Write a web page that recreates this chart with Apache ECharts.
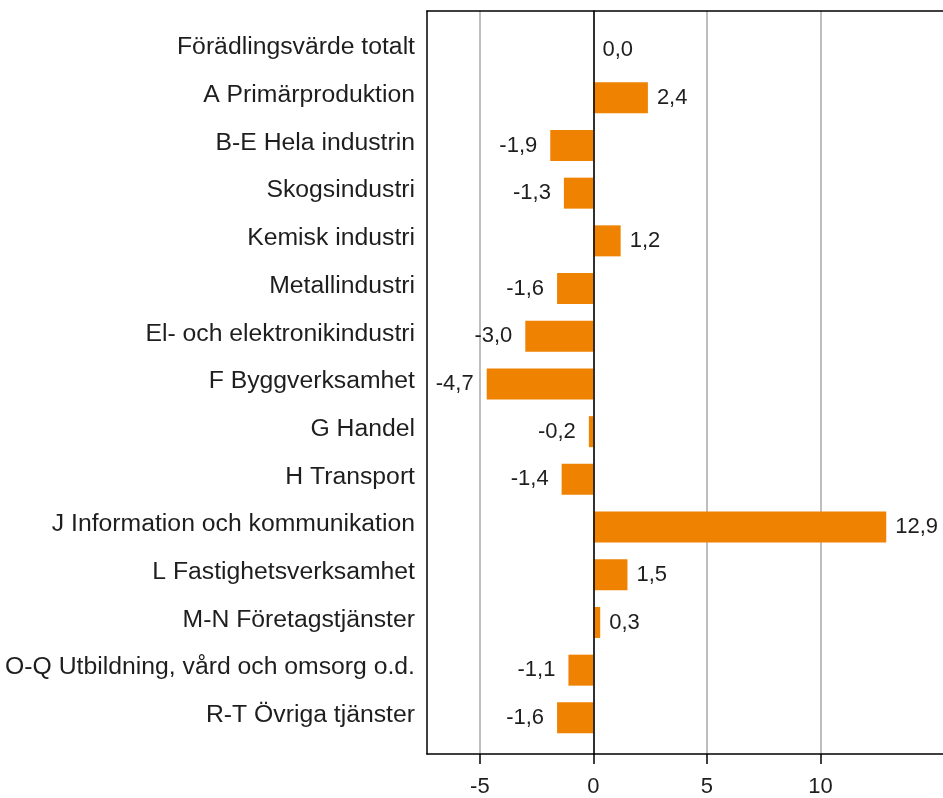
<!DOCTYPE html>
<html>
<head>
<meta charset="utf-8">
<script src="https://cdn.jsdelivr.net/npm/echarts@6/dist/echarts.min.js"></script>
<style>html,body{margin:0;padding:0;background:#fff;overflow:hidden}#c{width:943px;height:798px}</style>
</head>
<body>
<div id="c"></div>
<script>
const categories = [
  "Förädlingsvärde totalt",
  "A Primärproduktion",
  "B-E Hela industrin",
  "Skogsindustri",
  "Kemisk industri",
  "Metallindustri",
  "El- och elektronikindustri",
  "F Byggverksamhet",
  "G Handel",
  "H Transport",
  "J Information och kommunikation",
  "L Fastighetsverksamhet",
  "M-N Företagstjänster",
  "O-Q Utbildning, vård och omsorg o.d.",
  "R-T Övriga tjänster"
];
const values = [0.0, 2.4, -1.9, -1.3, 1.2, -1.6, -3.0, -4.7, -0.2, -1.4, 12.9, 1.5, 0.3, -1.1, -1.6];
const tickValues = [-5, 0, 5, 10];

const X_MIN = -7.33, X_MAX = 15.40;
const FONT = '"Liberation Sans", Arial, sans-serif';
const TXT = '#1e1e1e';
const frameLine = {show: true, onZero: false, lineStyle: {color: '#000', width: 1.5}};
const hidden = {axisTick: {show: false}, axisLabel: {show: false}, splitLine: {show: false}};

const chart = echarts.init(document.getElementById('c'), null, {renderer: 'canvas'});
const fmt = v => v.toFixed(1).replace('.', ',');

const barData = values.map(v => ({
  value: v,
  label: v < 0 ? {position: 'left', distance: 13} : {position: 'right', distance: 9}
}));

chart.setOption({
  animation: false,
  backgroundColor: '#fff',
  grid: [
    {left: 427, top: 11, right: 0, height: 743.6},
    {left: 427, top: 26.2, right: 0, height: 715.5}
  ],
  xAxis: [
    {
      type: 'value', gridIndex: 0, min: X_MIN, max: X_MAX, position: 'bottom',
      axisLine: {show: true, onZero: false, lineStyle: {color: '#000', width: 1.5}},
      axisTick: {show: true, length: 10, customValues: tickValues, lineStyle: {color: '#000', width: 1.5}},
      axisLabel: {show: true, customValues: tickValues, margin: 22, fontSize: 22, color: TXT, fontFamily: FONT},
      splitLine: {show: true, lineStyle: {color: '#a8a8a8', width: 1.5}}
    },
    {type: 'value', gridIndex: 1, min: X_MIN, max: X_MAX, show: false},
    Object.assign({type: 'value', gridIndex: 0, min: X_MIN, max: X_MAX, position: 'top', axisLine: frameLine}, hidden)
  ],
  yAxis: [
    {
      type: 'value', gridIndex: 0, min: 0, max: 1, z: 5,
      axisLine: {show: true, onZero: true, lineStyle: {color: '#000', width: 1.5}},
      axisTick: {show: false}, axisLabel: {show: false}, splitLine: {show: false}
    },
    {
      type: 'category', gridIndex: 1, data: categories, inverse: true,
      axisLine: {show: false, onZero: false}, axisTick: {show: false},
      axisLabel: {margin: 12, fontSize: 24.75, color: TXT, fontFamily: FONT, verticalAlign: 'bottom', lineHeight: 5}
    },
    Object.assign({type: 'value', gridIndex: 0, min: 0, max: 1, position: 'left', axisLine: frameLine}, hidden)
  ],
  series: [{
    type: 'bar', xAxisIndex: 1, yAxisIndex: 1,
    data: barData, barWidth: 31, z: 3,
    itemStyle: {color: '#ef8200'},
    label: {show: true, fontSize: 22, color: TXT, fontFamily: FONT, formatter: p => fmt(p.value)}
  }]
});
</script>
</body>
</html>
